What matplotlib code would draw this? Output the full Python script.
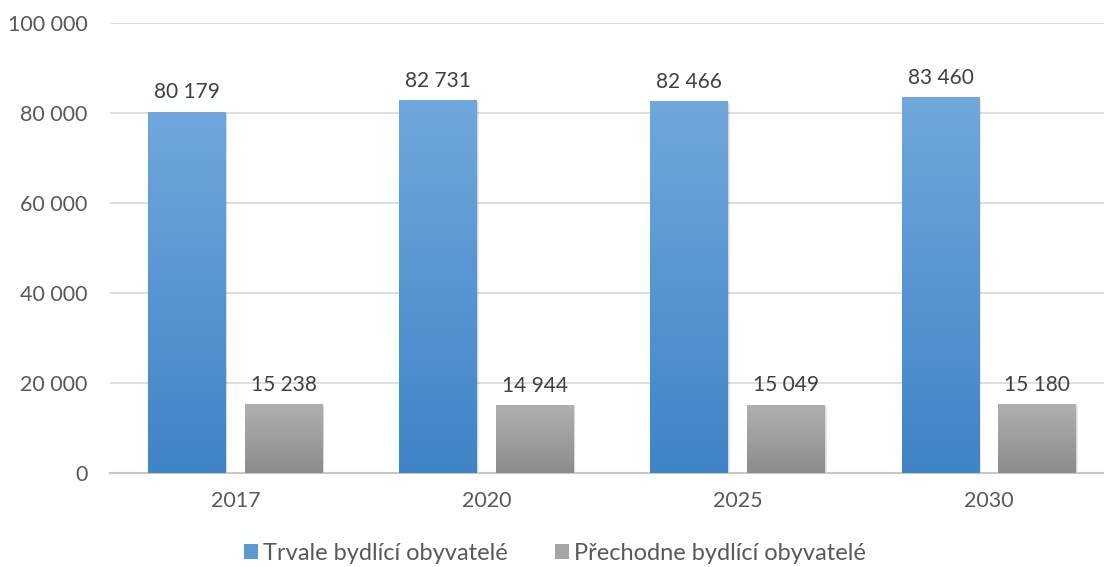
import matplotlib
matplotlib.use('Agg')
import matplotlib.pyplot as plt
import matplotlib.patheffects as pe
from matplotlib.colors import LinearSegmentedColormap
from matplotlib.patches import Patch
import numpy as np

years = ["2017", "2020", "2025", "2030"]
trvale = [80179, 82731, 82466, 83460]
prechodne = [15238, 14944, 15049, 15180]
series_names = ["Trvale bydlící obyvatelé", "Přechodne bydlící obyvatelé"]
y_ticks = [0, 20000, 40000, 60000, 80000, 100000]

plt.rcParams['font.family'] = ['Lato', 'DejaVu Sans']

def fmt(v):
    return f"{v:,}".replace(",", " ")

fig = plt.figure(figsize=(11.04, 5.67), dpi=100)
ax = fig.add_axes([110 / 1104, 94 / 567, 994 / 1104, 450 / 567])

x = np.arange(len(years))
width = 0.31
offset = 0.193

blue_cmap = LinearSegmentedColormap.from_list("b", ["#3f84c7", "#70a7dc"])
grey_cmap = LinearSegmentedColormap.from_list("g", ["#8c8c8c", "#b0b0b0"])
grad = np.linspace(0, 1, 256).reshape(-1, 1)

# soft shadow around each bar
shadow = [pe.SimplePatchShadow(offset=(1, -1), shadow_rgbFace="#000000", alpha=0.08),
          pe.SimplePatchShadow(offset=(0.5, -0.5), shadow_rgbFace="#000000", alpha=0.08),
          pe.Normal()]

for vals, shift, cmap in [(trvale, -offset, blue_cmap), (prechodne, offset, grey_cmap)]:
    bars = ax.bar(x + shift, vals, width, color="none", edgecolor="none", zorder=3)
    for b, v in zip(bars, vals):
        x0, y0 = b.get_x(), b.get_y()
        w, h = b.get_width(), b.get_height()
        sh = ax.bar(x0 + w / 2, h, w, color="#ffffff", edgecolor="none", zorder=2.5)
        sh[0].set_path_effects(shadow)
        ax.imshow(grad, extent=(x0, x0 + w, y0, y0 + h), origin="lower", cmap=cmap,
                  aspect="auto", zorder=3, interpolation="bilinear")
        ax.text(x0 + w / 2, h + 2200, fmt(v), ha="center", va="bottom",
                fontsize=15, color="#404040", zorder=4)

ax.set_xlim(-0.5, 3.5 - 10.5 / 251)
ax.set_ylim(0, 100000)
ax.set_yticks(y_ticks)
ax.set_yticklabels([fmt(t) for t in y_ticks])
ax.set_xticks(x)
ax.set_xticklabels(years)
ax.tick_params(axis="both", length=0, labelsize=15.5, colors="#595959")
ax.tick_params(axis="y", pad=16)
ax.tick_params(axis="x", pad=13)
ax.yaxis.grid(True, color="#d9d9d9", linewidth=1.2, zorder=0)
ax.set_axisbelow(True)
for s in ["top", "right", "left"]:
    ax.spines[s].set_visible(False)
ax.spines["bottom"].set_color("#c8c8c8")
ax.spines["bottom"].set_linewidth(1.5)

handles = [Patch(facecolor="#5b9bd5"), Patch(facecolor="#a5a5a5")]
fig.legend(handles, series_names, loc="center", bbox_to_anchor=(555 / 1104, 1 - 553 / 567),
           ncol=2, frameon=False, fontsize=17, labelcolor="#595959",
           handlelength=0.6, handleheight=0.6, handletextpad=0.2, columnspacing=2.0)

fig.savefig("out.png", dpi=100)
